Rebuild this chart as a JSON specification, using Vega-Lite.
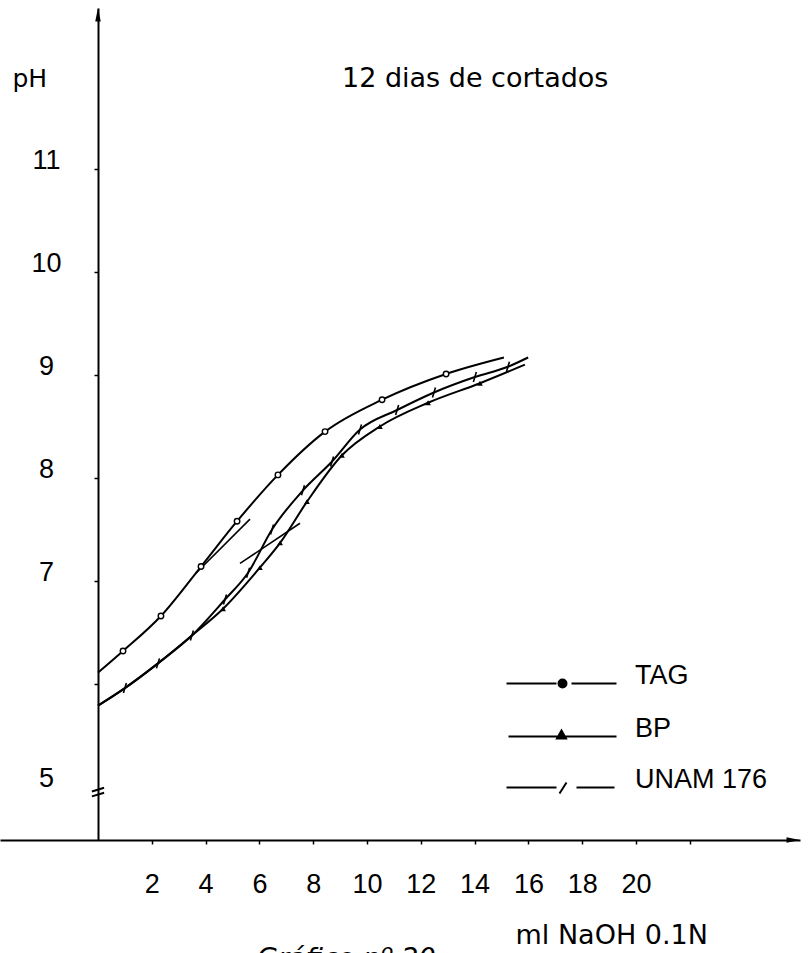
{
  "$schema": "https://vega.github.io/schema/vega-lite/v6.json",
  "width": 800,
  "height": 832,
  "autosize": {"type": "none"},
  "padding": {"left": 0, "top": 8, "right": 12, "bottom": 113},
  "background": "white",
  "config": {
    "font": "Liberation Sans",
    "view": {"stroke": null},
    "axis": {
      "grid": false,
      "domainColor": "black",
      "domainWidth": 2,
      "tickColor": "black",
      "tickWidth": 1.5,
      "tickSize": 4,
      "labelFont": "Liberation Sans",
      "labelFontSize": 27,
      "labelColor": "black",
      "titleFont": "DejaVu Sans",
      "titleFontSize": 27,
      "titleFontWeight": "normal",
      "titleColor": "black"
    }
  },
  "title": {
    "text": "12 dias de cortados",
    "anchor": "start",
    "frame": "group",
    "dx": 342,
    "dy": 106,
    "offset": 0,
    "baseline": "alphabetic",
    "fontSize": 27,
    "fontWeight": "normal",
    "font": "DejaVu Sans",
    "color": "black"
  },
  "datasets": {
    "curvas": [
      {"serie": "TAG", "ml": 0, "ph": 6.11, "lectura": false},
      {"serie": "TAG", "ml": 0.93, "ph": 6.32, "lectura": true},
      {"serie": "TAG", "ml": 2.34, "ph": 6.66, "lectura": true},
      {"serie": "TAG", "ml": 3.83, "ph": 7.14, "lectura": true},
      {"serie": "TAG", "ml": 5.17, "ph": 7.58, "lectura": true},
      {"serie": "TAG", "ml": 6.69, "ph": 8.03, "lectura": true},
      {"serie": "TAG", "ml": 8.44, "ph": 8.45, "lectura": true},
      {"serie": "TAG", "ml": 10.56, "ph": 8.76, "lectura": true},
      {"serie": "TAG", "ml": 12.94, "ph": 9.01, "lectura": true},
      {"serie": "TAG", "ml": 15.09, "ph": 9.17, "lectura": false},
      {"serie": "UNAM 176", "ml": 0, "ph": 5.79, "lectura": false},
      {"serie": "UNAM 176", "ml": 1.0, "ph": 5.96, "lectura": true},
      {"serie": "UNAM 176", "ml": 2.23, "ph": 6.2, "lectura": true},
      {"serie": "UNAM 176", "ml": 3.49, "ph": 6.47, "lectura": true},
      {"serie": "UNAM 176", "ml": 4.72, "ph": 6.82, "lectura": true},
      {"serie": "UNAM 176", "ml": 5.58, "ph": 7.08, "lectura": true},
      {"serie": "UNAM 176", "ml": 6.47, "ph": 7.5, "lectura": true},
      {"serie": "UNAM 176", "ml": 7.62, "ph": 7.88, "lectura": true},
      {"serie": "UNAM 176", "ml": 8.7, "ph": 8.16, "lectura": true},
      {"serie": "UNAM 176", "ml": 9.74, "ph": 8.47, "lectura": true},
      {"serie": "UNAM 176", "ml": 11.12, "ph": 8.66, "lectura": true},
      {"serie": "UNAM 176", "ml": 12.49, "ph": 8.83, "lectura": true},
      {"serie": "UNAM 176", "ml": 14.01, "ph": 8.98, "lectura": true},
      {"serie": "UNAM 176", "ml": 15.24, "ph": 9.08, "lectura": true},
      {"serie": "UNAM 176", "ml": 15.99, "ph": 9.17, "lectura": false},
      {"serie": "BP", "ml": 0, "ph": 5.79, "lectura": false},
      {"serie": "BP", "ml": 1.0, "ph": 5.96, "lectura": false},
      {"serie": "BP", "ml": 2.23, "ph": 6.2, "lectura": false},
      {"serie": "BP", "ml": 3.49, "ph": 6.47, "lectura": false},
      {"serie": "BP", "ml": 4.65, "ph": 6.73, "lectura": true},
      {"serie": "BP", "ml": 6.02, "ph": 7.13, "lectura": true},
      {"serie": "BP", "ml": 6.77, "ph": 7.37, "lectura": true},
      {"serie": "BP", "ml": 7.77, "ph": 7.77, "lectura": true},
      {"serie": "BP", "ml": 9.07, "ph": 8.22, "lectura": true},
      {"serie": "BP", "ml": 10.48, "ph": 8.5, "lectura": true},
      {"serie": "BP", "ml": 12.27, "ph": 8.73, "lectura": true},
      {"serie": "BP", "ml": 14.2, "ph": 8.92, "lectura": true},
      {"serie": "BP", "ml": 15.87, "ph": 9.1, "lectura": false}
    ],
    "tangentes": [
      {"trazo": "t1", "ml": 3.62, "ph": 7.07},
      {"trazo": "t1", "ml": 5.65, "ph": 7.6},
      {"trazo": "t2", "ml": 5.28, "ph": 7.17},
      {"trazo": "t2", "ml": 7.51, "ph": 7.56}
    ],
    "marcas": [
      {"elemento": "corte", "ml": 0, "ph": 4.95},
      {"elemento": "flecha_y", "ml": 0, "ph": 12.563},
      {"elemento": "flecha_x", "ml": 26.097, "ph": 4.485}
    ]
  },
  "encoding": {
    "x": {
      "field": "ml",
      "type": "quantitative",
      "scale": {"domain": [-3.643, 26.097], "nice": false, "zero": false},
      "axis": {
        "values": [2, 4, 6, 8, 10, 12, 14, 16, 18, 20, 22],
        "labelExpr": "datum.value == 22 ? '' : datum.label",
        "labelBaseline": "alphabetic",
        "labelPadding": 48,
        "labelFlush": false,
        "labelOverlap": false,
        "title": "ml NaOH 0.1N",
        "titleAnchor": null,
        "titleAlign": "left",
        "titleBaseline": "alphabetic",
        "titleX": 515,
        "titleY": 103
      }
    },
    "y": {
      "field": "ph",
      "type": "quantitative",
      "scale": {"domain": [4.485, 12.563], "nice": false, "zero": false},
      "axis": {
        "values": [5, 6, 7, 8, 9, 10, 11],
        "labelExpr": "datum.value == 6 ? '' : datum.label",
        "tickOpacity": {"condition": {"test": "datum.value == 5", "value": 0}, "value": 1},
        "offset": -98,
        "labelAlign": "center",
        "labelBaseline": "alphabetic",
        "labelPadding": 48,
        "labelOverlap": false,
        "title": "pH",
        "titleAngle": 0,
        "titleAnchor": null,
        "titleAlign": "left",
        "titleBaseline": "alphabetic",
        "titleFontSize": 25,
        "titleX": -86,
        "titleY": 78
      }
    }
  },
  "layer": [
    {
      "data": {"name": "tangentes"},
      "mark": {"type": "line", "color": "black", "strokeWidth": 1.6},
      "encoding": {"detail": {"field": "trazo", "type": "nominal"}}
    },
    {
      "data": {"name": "curvas"},
      "mark": {"type": "line", "interpolate": "monotone", "strokeWidth": 2},
      "encoding": {
        "color": {
          "field": "serie",
          "type": "nominal",
          "scale": {"domain": ["TAG", "BP", "UNAM 176"], "range": ["black", "black", "black"]},
          "legend": {
            "orient": "none",
            "legendX": 503,
            "legendY": 662,
            "title": null,
            "padding": 0,
            "symbolSize": 400,
            "symbolStrokeWidth": 2,
            "labelFont": "Liberation Sans",
            "labelFontSize": 27,
            "labelColor": "black",
            "labelOffset": 105,
            "labelBaseline": "alphabetic",
            "labelLimit": 300,
            "rowPadding": 22,
            "encode": {
              "symbols": {
                "update": {
                  "shape": {"signal": "datum.value === 'TAG' ? 'M-1,0H4M5.5,0H10M5,0A0.4,0.4 0 1,1 4.2,0A0.4,0.4 0 1,1 5,0Z' : (datum.value === 'BP' ? 'M-0.8,0H10M4.5,-0.6L4.95,0.2L4.05,0.2Z' : 'M-1,0H4M4.3,0.6L5,-0.5M6,0H9.8')"},
                  "fill": {"value": "black"},
                  "stroke": {"value": "black"},
                  "strokeWidth": {"value": 2},
                  "size": {"value": 400}
                }
              }
            }
          }
        }
      }
    },
    {
      "data": {"name": "curvas"},
      "transform": [{"filter": "datum.lectura && datum.serie == 'TAG'"}],
      "mark": {"type": "point", "shape": "circle", "size": 30, "filled": true, "fill": "white", "stroke": "black", "strokeWidth": 1.4, "opacity": 1}
    },
    {
      "data": {"name": "curvas"},
      "transform": [{"filter": "datum.lectura && datum.serie == 'BP'"}],
      "mark": {"type": "point", "shape": "triangle-up", "size": 32, "filled": true, "color": "black", "opacity": 1}
    },
    {
      "data": {"name": "curvas"},
      "transform": [{"filter": "datum.lectura && datum.serie == 'UNAM 176'"}],
      "mark": {"type": "point", "shape": "M-0.3,1L0.3,-1", "size": 100, "filled": false, "stroke": "black", "strokeWidth": 1.6, "opacity": 1}
    },
    {
      "data": {"name": "marcas"},
      "transform": [{"filter": "datum.elemento == 'corte'"}],
      "mark": {"type": "point", "shape": "M-1,-0.1L1,-0.7M-1,0.7L1,0.1", "size": 150, "filled": false, "stroke": "black", "strokeWidth": 2, "opacity": 1}
    },
    {
      "data": {"name": "marcas"},
      "transform": [{"filter": "datum.elemento == 'flecha_y'"}],
      "mark": {"type": "point", "shape": "M0,0L0.45,2.2L-0.45,2.2Z", "size": 150, "filled": true, "color": "black", "opacity": 1}
    },
    {
      "data": {"name": "marcas"},
      "transform": [{"filter": "datum.elemento == 'flecha_x'"}],
      "mark": {"type": "point", "shape": "M0,0L-2.2,-0.45L-2.2,0.45Z", "size": 150, "filled": true, "color": "black", "opacity": 1}
    },
    {
      "data": {"values": [{"ml": 5.91, "ph": 3.25, "texto": "Gráfico nº 20"}]},
      "mark": {"type": "text", "font": "DejaVu Sans", "fontStyle": "italic", "fontSize": 27, "align": "left", "baseline": "alphabetic", "color": "black"},
      "encoding": {"text": {"field": "texto", "type": "nominal"}}
    }
  ]
}
